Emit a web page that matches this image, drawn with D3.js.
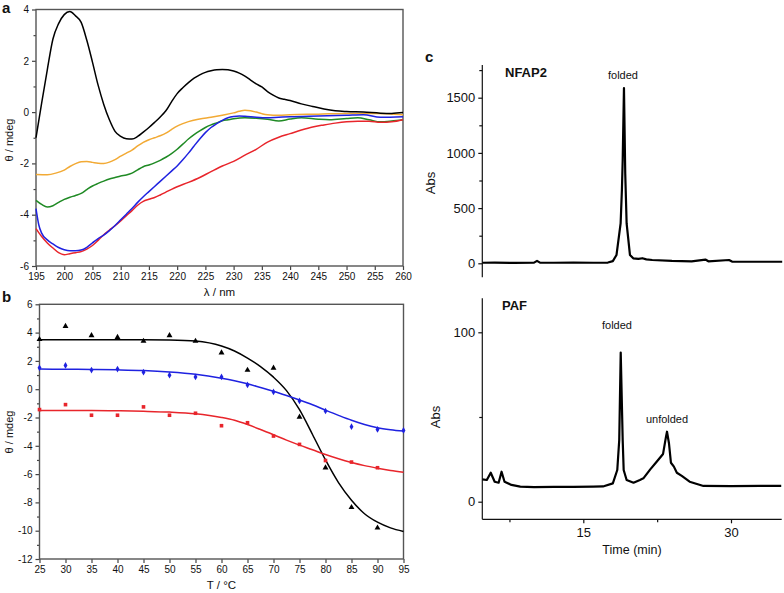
<!DOCTYPE html>
<html>
<head>
<meta charset="utf-8">
<script src="https://d3js.org/d3.v7.min.js"></script>
<style>
  body { margin: 0; background: #fff; }
  svg text { font-family: Arial, "Liberation Sans", sans-serif; fill: #111; }
</style>
</head>
<body>
<svg id="fig" width="784" height="593"></svg>
<script>
// ---- panel a : CD spectra, [wavelength nm, theta mdeg]
var specBlack = [[195,-1.0],[196,0.35],[197,1.65],[198,2.85],[199,3.45],[200,3.8],[201,3.92],[202,3.75],[203,3.5],[204,2.8],[205,1.95],[206,1.05],[207,0.3],[208,-0.3],[209,-0.75],[210,-0.95],[211,-1.04],[212,-1.05],[213,-0.95],[214,-0.78],[215,-0.6],[216,-0.4],[217,-0.19],[218,0.05],[219,0.4],[220,0.72],[221,0.95],[222,1.15],[223,1.32],[224,1.45],[225,1.55],[226,1.61],[227,1.65],[228,1.66],[229,1.65],[230,1.6],[231,1.52],[232,1.4],[233,1.25],[234,1.1],[235,0.98],[236,0.8],[237,0.66],[238,0.55],[239,0.5],[240,0.45],[242,0.32],[244,0.22],[246,0.12],[248,0.05],[250,0.02],[253,0.0],[256,-0.04],[258,-0.05],[260,-0.02]];
var specYellow = [[195,-2.43],[197,-2.44],[198.5,-2.38],[200,-2.26],[201,-2.12],[202,-2.01],[203,-1.94],[204,-1.93],[205,-1.96],[206,-1.99],[207,-2.0],[208,-1.95],[209,-1.85],[210,-1.72],[211,-1.6],[212,-1.48],[213,-1.32],[214,-1.18],[215,-1.08],[216,-1.0],[217,-0.92],[218,-0.82],[219,-0.68],[220,-0.55],[221,-0.45],[222,-0.37],[224,-0.27],[226,-0.2],[228,-0.12],[230,-0.03],[231,0.03],[232,0.07],[233,0.05],[234,0.0],[235,-0.06],[236,-0.1],[238,-0.12],[240,-0.1],[245,-0.08],[250,-0.05],[255,-0.05],[260,-0.1]];
var specGreen = [[195,-3.44],[196,-3.6],[197,-3.7],[198,-3.65],[199,-3.52],[200,-3.4],[201,-3.32],[202,-3.25],[203,-3.17],[204,-3.02],[205,-2.88],[206,-2.78],[207,-2.69],[208,-2.61],[209,-2.55],[210,-2.49],[211,-2.45],[212,-2.38],[213,-2.25],[214,-2.13],[215,-2.06],[216,-1.98],[217,-1.88],[218,-1.76],[219,-1.62],[220,-1.45],[221,-1.25],[222,-1.05],[223,-0.88],[224,-0.73],[225,-0.6],[226,-0.5],[227,-0.42],[228,-0.34],[229,-0.3],[230,-0.26],[232,-0.22],[234,-0.24],[236,-0.28],[238,-0.35],[240,-0.27],[242,-0.22],[245,-0.28],[247,-0.3],[250,-0.25],[252,-0.22],[254,-0.3],[256,-0.38],[258,-0.35],[260,-0.3]];
var specBlue = [[195,-3.76],[195.5,-4.4],[196,-4.72],[197,-4.98],[198,-5.14],[199,-5.28],[200,-5.37],[201,-5.41],[202,-5.41],[203,-5.38],[204,-5.27],[205,-5.1],[206,-4.93],[207,-4.8],[208,-4.62],[209,-4.42],[210,-4.2],[211,-3.98],[212,-3.76],[213,-3.52],[214,-3.3],[215,-3.1],[216,-2.9],[217,-2.7],[218,-2.5],[219,-2.3],[220,-2.1],[221,-1.86],[222,-1.6],[223,-1.32],[224,-1.05],[225,-0.8],[226,-0.6],[227,-0.45],[228,-0.32],[229,-0.22],[230,-0.17],[231,-0.15],[232,-0.16],[234,-0.2],[236,-0.22],[238,-0.2],[240,-0.18],[245,-0.15],[250,-0.12],[253,-0.1],[256,-0.2],[260,-0.18]];
var specRed = [[195,-4.54],[196,-4.85],[197,-5.1],[198,-5.3],[199,-5.48],[200,-5.56],[201,-5.52],[202,-5.48],[203,-5.44],[204,-5.34],[205,-5.2],[206,-5.0],[207,-4.78],[208,-4.6],[209,-4.43],[210,-4.24],[211,-4.04],[212,-3.84],[213,-3.63],[214,-3.48],[215,-3.4],[216,-3.33],[217,-3.23],[218,-3.12],[219,-3.01],[220,-2.91],[222,-2.74],[224,-2.55],[226,-2.32],[228,-2.1],[230,-1.92],[232,-1.68],[234,-1.45],[236,-1.17],[238,-0.98],[240,-0.84],[242,-0.7],[244,-0.58],[246,-0.5],[248,-0.43],[250,-0.38],[252,-0.36],[254,-0.36],[256,-0.4],[258,-0.38],[260,-0.3]];

// ---- panel b : thermal unfolding, temperatures and measured points
var temps = [25,30,35,40,45,50,55,60,65,70,75,80,85,90,95];
var ptsBlack = [3.52,4.45,3.8,3.67,3.4,3.8,3.4,2.58,1.35,1.5,-1.96,-5.55,-8.35,-9.8,null];
var ptsBlue  = [1.51,1.68,1.35,1.42,1.2,0.99,0.87,0.87,0.3,-0.19,-0.83,-1.54,-2.65,-2.84,-2.91];
var ptsRed   = [-1.44,-1.09,-1.84,-1.84,-1.25,-1.84,-1.7,-2.58,-2.37,-3.31,-3.9,-5.04,-5.15,-5.55,null];
// fitted curves
var fitT     = [25,30,35,40,45,50,55,60,62.5,65,67.5,70,72.5,75,77.5,80,82.5,85,87.5,90,92.5,95];
var fitBlack = [3.5,3.5,3.5,3.5,3.5,3.48,3.4,3.05,2.7,2.2,1.6,0.85,-0.1,-1.45,-3.2,-5.0,-6.6,-7.85,-8.8,-9.4,-9.8,-10.05];
var fitBlue  = [1.42,1.41,1.4,1.37,1.32,1.22,1.06,0.78,0.6,0.38,0.12,-0.14,-0.44,-0.76,-1.1,-1.48,-1.85,-2.2,-2.5,-2.72,-2.86,-2.96];
var fitRed   = [-1.5,-1.5,-1.5,-1.52,-1.56,-1.62,-1.74,-2.0,-2.2,-2.5,-2.85,-3.22,-3.6,-3.95,-4.28,-4.62,-4.92,-5.18,-5.4,-5.58,-5.74,-5.87];

// ---- panel c : HPLC traces, [time min, absorbance]
var traceNFAP2 = [[4.75,5],[6,6],[8,4],[10,6],[10.3,22],[10.6,6],[12,5],[14,6],[16,5],[17.5,7],[18.0,20],[18.37,75],[18.79,361],[18.92,661],[19.0,932],[19.13,1588],[19.26,812],[19.4,361],[19.74,75],[20.07,45],[20.6,40],[21.0,46],[21.4,36],[22,30],[24,22],[26,18],[27.4,34],[27.7,18],[29.8,30],[30.1,16],[32,14],[35.2,14]];
var tracePAF = [[4.75,13.2],[5.2,12.8],[5.6,17.1],[6.0,11.8],[6.4,11.2],[6.7,17.7],[7.0,11.8],[7.7,9.9],[8.6,8.9],[10,8.6],[12,8.8],[14,8.7],[16,8.9],[17.0,9],[18.0,10.8],[18.45,18.7],[18.65,36.4],[18.8,88],[19.0,36.4],[19.1,18.7],[19.4,12.8],[20.1,11.2],[20.75,12.8],[21.1,13.8],[21.8,19.1],[22.45,23.6],[23.1,28.2],[23.4,38.4],[23.5,41.3],[23.7,34.5],[23.9,23],[24.2,20.7],[24.5,17.1],[25.0,15.2],[25.8,11.8],[27.2,9.3],[30,9.2],[33,9.3],[35.1,9.3]];

var svg = d3.select("#fig");
svg.append("rect").attr("width",784).attr("height",593).attr("fill","#fff");

function boxAxes(g, x, y, xMajor, yMajor, yMinor, xTitle, yTitle, yTitleY) {
  var r = x.range(), t = y.range();
  g.append("g").attr("transform","translate(0,"+t[0]+")")
    .call(d3.axisBottom(x).tickValues(xMajor).tickSize(4).tickPadding(3).tickFormat(d3.format("d")))
    .call(s => s.select(".domain").remove());
  g.append("g").attr("transform","translate("+r[0]+",0)")
    .call(d3.axisLeft(y).tickValues(yMajor).tickSize(4).tickPadding(3).tickFormat(d => d < 0 ? "-" + Math.abs(d) : d))
    .call(s => s.select(".domain").remove());
  g.append("g").attr("transform","translate("+r[0]+",0)")
    .call(d3.axisLeft(y).tickValues(yMinor).tickSize(2.5).tickFormat(""))
    .call(s => s.select(".domain").remove());
  g.selectAll(".tick text").attr("font-size",10).attr("fill","#111").style("font-family","Arial, 'Liberation Sans', sans-serif");
  g.selectAll(".tick line").attr("stroke","#444").attr("stroke-width",1.2);
  g.append("rect").attr("x",r[0]).attr("y",t[1]).attr("width",r[1]-r[0]).attr("height",t[0]-t[1])
    .attr("fill","none").attr("stroke","#555").attr("stroke-width",1.4);
  g.append("text").attr("x",(r[0]+r[1])/2).attr("y",t[0]+30).attr("text-anchor","middle")
    .attr("font-size",11.5).text(xTitle);
  g.append("text").attr("transform","translate(13,"+yTitleY+") rotate(-90)").attr("text-anchor","middle")
    .attr("font-size",11).text(yTitle);
}

// ================= panel a
var gA = svg.append("g");
var xA = d3.scaleLinear().domain([195,260]).range([36,403]);
var yA = d3.scaleLinear().domain([-6,4]).range([266,9.5]);
boxAxes(gA, xA, yA, d3.range(195,261,5), d3.range(-6,5,2), d3.range(-5,4,2), "\u03bb / nm", "\u03b8 / mdeg", 140);
var lineA = d3.line().x(d => xA(d[0])).y(d => yA(d[1])).curve(d3.curveMonotoneX);
[[specYellow,"#f2aa35"],[specGreen,"#1f8a24"],[specRed,"#e8252b"],[specBlue,"#1f22e0"],[specBlack,"#000"]].forEach(function(s) {
  gA.append("path").datum(s[0]).attr("d",lineA).attr("fill","none").attr("stroke",s[1]).attr("stroke-width",1.5);
});
svg.append("text").attr("x",2).attr("y",13).attr("font-size",15).attr("font-weight","bold").text("a");

// ================= panel b
var gB = svg.append("g");
var xB = d3.scaleLinear().domain([25,95]).range([39.5,403.5]);
var yB = d3.scaleLinear().domain([-12,6]).range([559,304.3]);
boxAxes(gB, xB, yB, d3.range(25,96,5), d3.range(-12,7,2), d3.range(-11,6,2), "T / \u00b0C", "\u03b8 / mdeg", 432);
var lineB = d3.line().x(d => xB(d[0])).y(d => yB(d[1])).curve(d3.curveMonotoneX);
[[fitBlack,"#000"],[fitBlue,"#1f22e0"],[fitRed,"#e8252b"]].forEach(function(s) {
  gB.append("path").datum(fitT.map((t,i) => [t, s[0][i]])).attr("d",lineB)
    .attr("fill","none").attr("stroke",s[1]).attr("stroke-width",1.5);
});
[[ptsBlack,d3.symbolTriangle,15,"#000"],[ptsBlue,d3.symbolDiamond,13,"#1f22e0"],[ptsRed,d3.symbolSquare,13,"#e8252b"]].forEach(function(s) {
  gB.selectAll(null).data(temps.map((t,i) => [t, s[0][i]]).filter(d => d[1] != null)).enter()
    .append("path").attr("d", d3.symbol().type(s[1]).size(s[2]))
    .attr("transform", d => "translate("+xB(d[0])+","+yB(d[1])+")").attr("fill",s[3]);
});
svg.append("text").attr("x",2).attr("y",302).attr("font-size",15).attr("font-weight","bold").text("b");

// ================= panel c
var xC = d3.scaleLinear().domain([0,30]).range([435.6,731]);
var lineStyle = function(g, x, y, data) {
  g.append("path").datum(data)
    .attr("d", d3.line().x(d => x(d[0])).y(d => y(d[1])))
    .attr("fill","none").attr("stroke","#000").attr("stroke-width",2.2).attr("stroke-linejoin","round");
};
function styleC(s) {
  s.selectAll(".tick text").attr("font-size",13).attr("fill","#111").style("font-family","Arial, 'Liberation Sans', sans-serif");
  s.selectAll(".tick line, .domain").attr("stroke","#111").attr("stroke-width",1.2);
}

// top: NFAP2
var gC1 = svg.append("g");
var yC1 = d3.scaleLinear().domain([0,1500]).range([263.3,97.7]);
gC1.append("g").attr("transform","translate(482.3,0)")
  .call(d3.axisLeft(yC1).tickValues([0,500,1000,1500]).tickSize(4).tickPadding(3).tickSizeOuter(0).tickFormat(d3.format("d")))
  .call(s => s.select(".domain").attr("d","M0,65V277.3"))
  .call(styleC);
gC1.append("g").attr("transform","translate(482.3,0)")
  .call(d3.axisLeft(yC1).tickValues([250,750,1250,1750]).tickSize(3).tickFormat(""))
  .call(s => s.select(".domain").remove()).call(styleC);
lineStyle(gC1, xC, yC1, traceNFAP2);
gC1.append("text").attr("x",505).attr("y",77).attr("font-size",13).attr("font-weight","bold").text("NFAP2");
gC1.append("text").attr("x",623).attr("y",79).attr("text-anchor","middle").attr("font-size",11).text("folded");
gC1.append("text").attr("transform","translate(435,183) rotate(-90)").attr("text-anchor","middle").attr("font-size",13).text("Abs");

// bottom: PAF
var gC2 = svg.append("g");
var yC2 = d3.scaleLinear().domain([0,100]).range([501.7,332.3]);
gC2.append("g").attr("transform","translate(0,519.3)")
  .call(d3.axisBottom(xC).tickValues([15,30]).tickSize(4).tickPadding(4).tickSizeOuter(0))
  .call(s => s.select(".domain").attr("d","M482.3,0H781.7"))
  .call(styleC);
gC2.append("g").attr("transform","translate(0,519.3)")
  .call(d3.axisBottom(xC).tickValues([7.5,22.5]).tickSize(3).tickFormat(""))
  .call(s => s.select(".domain").remove()).call(styleC);
gC2.append("g").attr("transform","translate(482.3,0)")
  .call(d3.axisLeft(yC2).tickValues([0,100]).tickSize(4).tickPadding(3))
  .call(s => s.select(".domain").attr("d","M0,298.3V519.3"))
  .call(styleC);
gC2.append("g").attr("transform","translate(482.3,0)")
  .call(d3.axisLeft(yC2).tickValues([50]).tickSize(3).tickFormat(""))
  .call(s => s.select(".domain").remove()).call(styleC);
lineStyle(gC2, xC, yC2, tracePAF);
gC2.append("text").attr("x",502).attr("y",310).attr("font-size",13).attr("font-weight","bold").text("PAF");
gC2.append("text").attr("x",617).attr("y",329).attr("text-anchor","middle").attr("font-size",11).text("folded");
gC2.append("text").attr("x",667).attr("y",423).attr("text-anchor","middle").attr("font-size",11).text("unfolded");
gC2.append("text").attr("transform","translate(440,417) rotate(-90)").attr("text-anchor","middle").attr("font-size",13).text("Abs");
gC2.append("text").attr("x",632).attr("y",554).attr("text-anchor","middle").attr("font-size",12.5).text("Time (min)");

svg.append("text").attr("x",425).attr("y",62).attr("font-size",15).attr("font-weight","bold").text("c");
</script>
</body>
</html>
